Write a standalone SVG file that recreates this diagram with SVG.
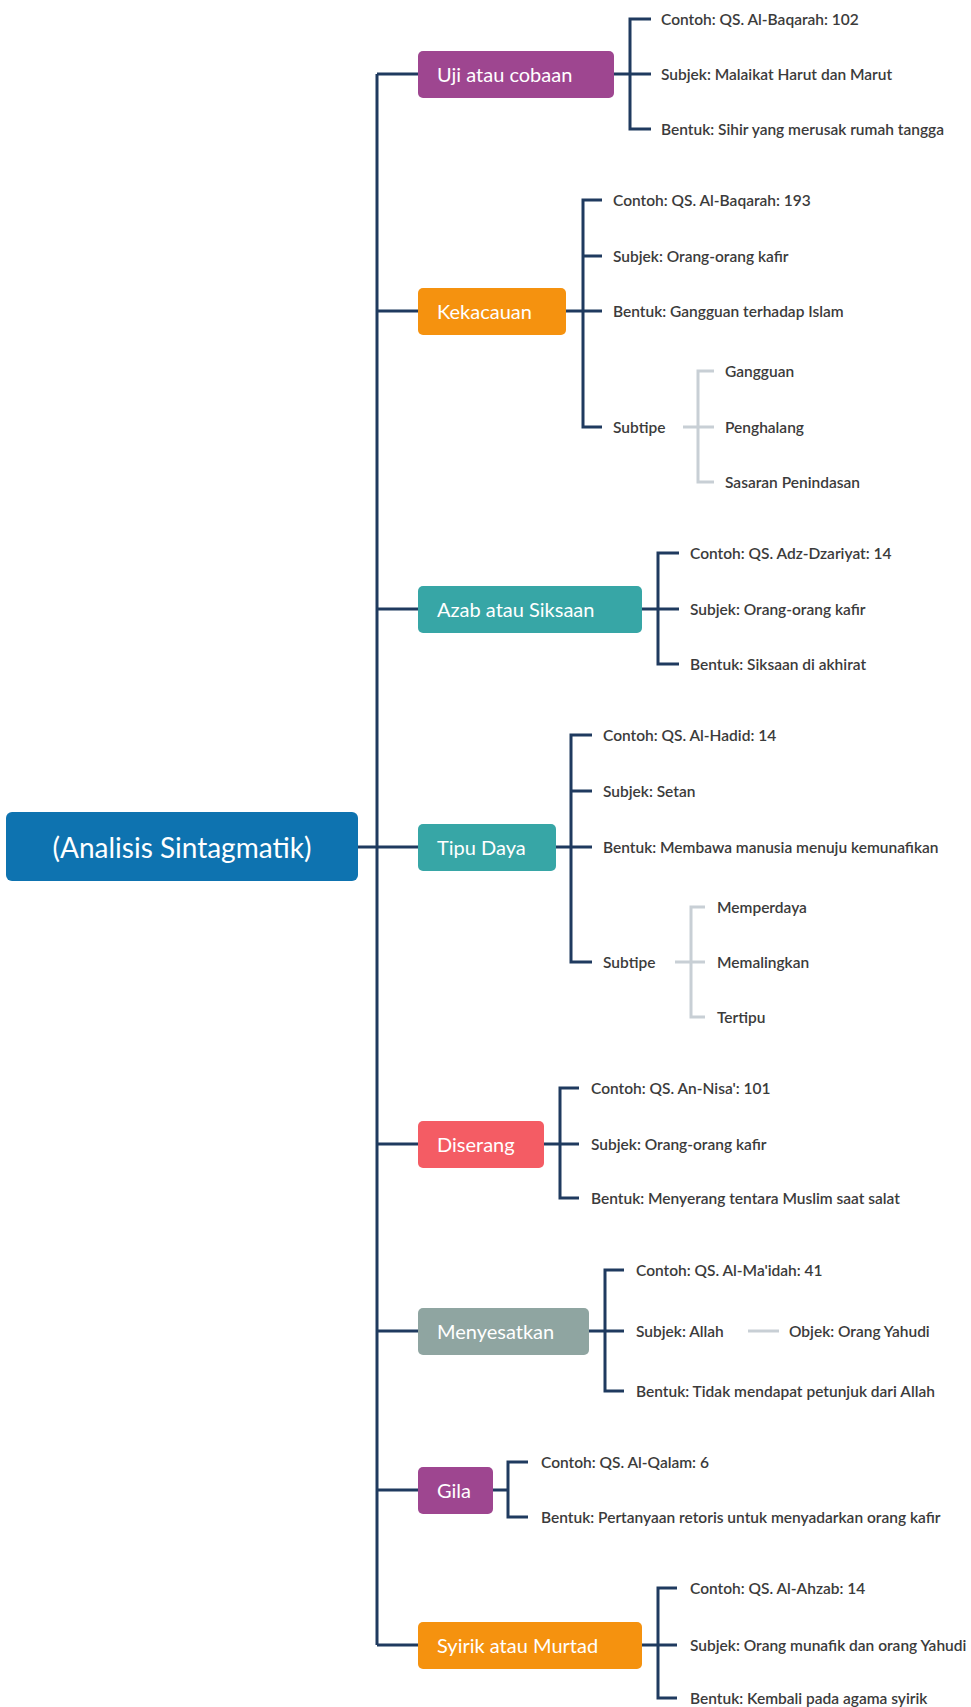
<svg xmlns="http://www.w3.org/2000/svg" width="971" height="1707" viewBox="0 0 971 1707">
<style>
.bg{fill:#ffffff}
.ln{fill:none;stroke:#1f3a5f;stroke-width:3}
.gl{fill:none;stroke:#c8cfd5;stroke-width:3}
.box{stroke:none}
.bt{font-family:Lato,"Noto Sans",sans-serif;font-size:20px;fill:#ffffff;dominant-baseline:central}
.rt{font-family:Lato,"Noto Sans",sans-serif;font-size:28px;fill:#ffffff;dominant-baseline:central;text-anchor:middle}
.lf{font-family:Lato,"Noto Sans",sans-serif;font-size:15.5px;font-weight:600;fill:#3b3b3b;dominant-baseline:central}
.purple{fill:#9e4690}.orange{fill:#f5920f}.teal{fill:#37a6a6}.red{fill:#f45c64}.sage{fill:#8fa5a1}.blue{fill:#0e73b0}
</style>
<rect class="bg" x="0" y="0" width="971" height="1707"/>
<g id="connectors">
<path class="ln" d="M358 847H377M377 74V1645M377 74H418M377 311H418M377 609H418M377 847H418M377 1144H418M377 1331H418M377 1490H418M377 1645H418"/>
<path class="ln" d="M614 74H630M651 19H630V129H651M630 74H651"/>
<path class="ln" d="M566 311H583M602 200H583V427H602M583 256H602M583 311H602"/>
<path class="gl" d="M683 427H714M714 371H698V482H714"/>
<path class="ln" d="M642 609H658M679 553H658V664H679M658 609H679"/>
<path class="ln" d="M556 847H571M592 735H571V962H592M571 791H592M571 847H592"/>
<path class="gl" d="M675 962H705M705 907H691V1017H705"/>
<path class="ln" d="M544 1144H560M579 1088H560V1198H579M560 1144H579"/>
<path class="ln" d="M589 1331H605M624 1270H605V1391H624M605 1331H624"/>
<path class="gl" d="M748 1331H779"/>
<path class="ln" d="M493 1490H508M528 1462H508V1517H528"/>
<path class="ln" d="M642 1645H658M677 1588H658V1698H677M658 1645H677"/>
</g>
<g id="root"><rect class="box blue" x="6" y="812" width="352" height="69" rx="6"/><text class="rt" x="182" y="847">(Analisis Sintagmatik)</text></g>
<g id="uji"><rect class="box purple" x="418" y="51" width="196" height="47" rx="5"/><text class="bt" x="437" y="74">Uji atau cobaan</text></g>
<g id="uji-contoh"><text class="lf" x="661" y="19">Contoh: QS. Al-Baqarah: 102</text></g>
<g id="uji-subjek"><text class="lf" x="661" y="74">Subjek: Malaikat Harut dan Marut</text></g>
<g id="uji-bentuk"><text class="lf" x="661" y="129">Bentuk: Sihir yang merusak rumah tangga</text></g>
<g id="kekacauan"><rect class="box orange" x="418" y="288" width="148" height="47" rx="5"/><text class="bt" x="437" y="311">Kekacauan</text></g>
<g id="kek-contoh"><text class="lf" x="613" y="200">Contoh: QS. Al-Baqarah: 193</text></g>
<g id="kek-subjek"><text class="lf" x="613" y="256">Subjek: Orang-orang kafir</text></g>
<g id="kek-bentuk"><text class="lf" x="613" y="311">Bentuk: Gangguan terhadap Islam</text></g>
<g id="kek-subtipe"><text class="lf" x="613" y="427">Subtipe</text></g>
<g id="kek-gangguan"><text class="lf" x="725" y="371">Gangguan</text></g>
<g id="kek-penghalang"><text class="lf" x="725" y="427">Penghalang</text></g>
<g id="kek-sasaran"><text class="lf" x="725" y="482">Sasaran Penindasan</text></g>
<g id="azab"><rect class="box teal" x="418" y="586" width="224" height="47" rx="5"/><text class="bt" x="437" y="609">Azab atau Siksaan</text></g>
<g id="azab-contoh"><text class="lf" x="690" y="553">Contoh: QS. Adz-Dzariyat: 14</text></g>
<g id="azab-subjek"><text class="lf" x="690" y="609">Subjek: Orang-orang kafir</text></g>
<g id="azab-bentuk"><text class="lf" x="690" y="664">Bentuk: Siksaan di akhirat</text></g>
<g id="tipu"><rect class="box teal" x="418" y="824" width="138" height="47" rx="5"/><text class="bt" x="437" y="847">Tipu Daya</text></g>
<g id="tipu-contoh"><text class="lf" x="603" y="735">Contoh: QS. Al-Hadid: 14</text></g>
<g id="tipu-subjek"><text class="lf" x="603" y="791">Subjek: Setan</text></g>
<g id="tipu-bentuk"><text class="lf" x="603" y="847">Bentuk: Membawa manusia menuju kemunafikan</text></g>
<g id="tipu-subtipe"><text class="lf" x="603" y="962">Subtipe</text></g>
<g id="tipu-memperdaya"><text class="lf" x="717" y="907">Memperdaya</text></g>
<g id="tipu-memalingkan"><text class="lf" x="717" y="962">Memalingkan</text></g>
<g id="tipu-tertipu"><text class="lf" x="717" y="1017">Tertipu</text></g>
<g id="diserang"><rect class="box red" x="418" y="1121" width="126" height="47" rx="5"/><text class="bt" x="437" y="1144">Diserang</text></g>
<g id="dis-contoh"><text class="lf" x="591" y="1088">Contoh: QS. An-Nisa': 101</text></g>
<g id="dis-subjek"><text class="lf" x="591" y="1144">Subjek: Orang-orang kafir</text></g>
<g id="dis-bentuk"><text class="lf" x="591" y="1198">Bentuk: Menyerang tentara Muslim saat salat</text></g>
<g id="menyesatkan"><rect class="box sage" x="418" y="1308" width="171" height="47" rx="5"/><text class="bt" x="437" y="1331">Menyesatkan</text></g>
<g id="men-contoh"><text class="lf" x="636" y="1270">Contoh: QS. Al-Ma'idah: 41</text></g>
<g id="men-subjek"><text class="lf" x="636" y="1331">Subjek: Allah</text></g>
<g id="men-objek"><text class="lf" x="789" y="1331">Objek: Orang Yahudi</text></g>
<g id="men-bentuk"><text class="lf" x="636" y="1391">Bentuk: Tidak mendapat petunjuk dari Allah</text></g>
<g id="gila"><rect class="box purple" x="418" y="1467" width="75" height="47" rx="5"/><text class="bt" x="437" y="1490">Gila</text></g>
<g id="gila-contoh"><text class="lf" x="541" y="1462">Contoh: QS. Al-Qalam: 6</text></g>
<g id="gila-bentuk"><text class="lf" x="541" y="1517">Bentuk: Pertanyaan retoris untuk menyadarkan orang kafir</text></g>
<g id="syirik"><rect class="box orange" x="418" y="1622" width="224" height="47" rx="5"/><text class="bt" x="437" y="1645">Syirik atau Murtad</text></g>
<g id="sy-contoh"><text class="lf" x="690" y="1588">Contoh: QS. Al-Ahzab: 14</text></g>
<g id="sy-subjek"><text class="lf" x="690" y="1645">Subjek: Orang munafik dan orang Yahudi</text></g>
<g id="sy-bentuk"><text class="lf" x="690" y="1698">Bentuk: Kembali pada agama syirik</text></g>
</svg>
